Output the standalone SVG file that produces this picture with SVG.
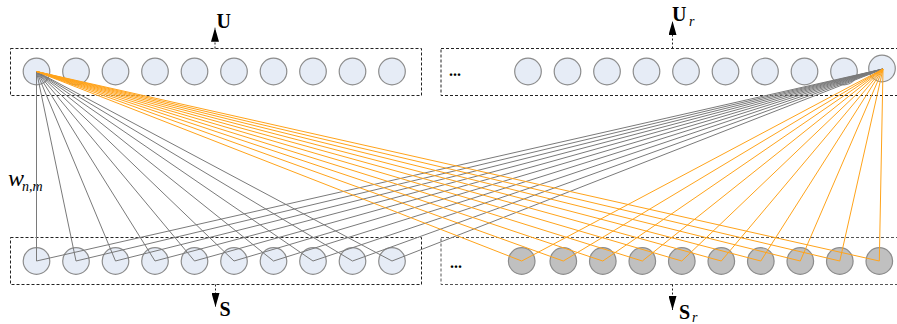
<svg xmlns="http://www.w3.org/2000/svg" width="897" height="324" viewBox="0 0 897 324">
  <style>
    .box { fill: none; stroke: #222; stroke-width: 1; stroke-dasharray: 3 2; }
    .box-light { fill: none; stroke: #555; stroke-width: 1; stroke-dasharray: 3 2; }
    .n { fill: #e6ecf6; stroke: #8c8c8c; stroke-width: 1.2; }
    .o { fill: #c0c0c0; stroke: #8c8c8c; stroke-width: 1.2; }
    .g { stroke: #7a7a7a; stroke-width: 1; fill: none; }
    .y { stroke: #ffa31a; stroke-width: 1; fill: none; }
    .io { stroke: #222; stroke-width: 1; stroke-dasharray: 2 2; marker-end: url(#head); }
    .lbl { font-family: "Liberation Serif", "Times New Roman", serif; font-weight: bold; font-size: 20px; fill: #000; }
    .sub { font-family: "Liberation Serif", "Times New Roman", serif; font-style: italic; font-size: 14px; fill: #000; }
    .w { font-family: "Liberation Serif", "Times New Roman", serif; font-style: italic; font-size: 24px; fill: #000; }
    .dots { font-family: "Liberation Serif", "Times New Roman", serif; font-weight: bold; font-size: 16px; fill: #000; }
  </style>
  <defs>
    <marker id="head" viewBox="0 0 14 8" refX="14" refY="4" markerWidth="14" markerHeight="8" markerUnits="userSpaceOnUse" orient="auto">
      <path d="M0,0 L14,4 L0,8 z" fill="#000"/>
    </marker>
  </defs>

  <!-- layer frames -->
  <g id="frames">
    <rect class="box" x="10.5" y="48.5" width="411" height="47"/>
    <rect class="box" x="441" y="48.5" width="470" height="47"/>
    <rect class="box" x="10.5" y="237.5" width="411" height="47"/>
    <rect class="box-light" x="441" y="237.5" width="470" height="47"/>
    <text class="dots" x="449" y="76">...</text>
    <text class="dots" x="450" y="268">...</text>
  </g>

  <!-- input / output arrows and labels -->
  <g id="io">
    <line class="io" x1="215" y1="48.5" x2="215" y2="27.7"/>
    <text class="lbl" x="216.5" y="27.5">U</text>
    <line class="io" x1="672.5" y1="48.5" x2="672.5" y2="21"/>
    <text class="lbl" x="672" y="20.5">U</text>
    <text class="sub" x="689" y="26">r</text>
    <line class="io" x1="215.5" y1="284.5" x2="215.5" y2="307"/>
    <text class="lbl" x="219.5" y="316">S</text>
    <line class="io" x1="672.5" y1="284.5" x2="672.5" y2="310"/>
    <text class="lbl" x="679" y="319">S</text>
    <text class="sub" x="692" y="322">r</text>
  </g>

  <text class="w" x="8" y="186">w</text>
  <text class="sub" x="22" y="190.5">n,m</text>

  <!-- upper layer, left block -->
  <g id="u1"><circle class="n" cx="36.5" cy="71.5" r="13.3"/></g>
  <g id="u2"><circle class="n" cx="76" cy="71.5" r="13.3"/></g>
  <g id="u3"><circle class="n" cx="115.5" cy="71.5" r="13.3"/></g>
  <g id="u4"><circle class="n" cx="155" cy="71.5" r="13.3"/></g>
  <g id="u5"><circle class="n" cx="194.5" cy="71.5" r="13.3"/></g>
  <g id="u6"><circle class="n" cx="234" cy="71.5" r="13.3"/></g>
  <g id="u7"><circle class="n" cx="273.5" cy="71.5" r="13.3"/></g>
  <g id="u8"><circle class="n" cx="313" cy="71.5" r="13.3"/></g>
  <g id="u9"><circle class="n" cx="352.5" cy="71.5" r="13.3"/></g>
  <g id="u10"><circle class="n" cx="392" cy="71.5" r="13.3"/></g>

  <!-- upper layer, right block -->
  <g id="ur1"><circle class="n" cx="528" cy="71.5" r="13.3"/></g>
  <g id="ur2"><circle class="n" cx="567.5" cy="71.5" r="13.3"/></g>
  <g id="ur3"><circle class="n" cx="607" cy="71.5" r="13.3"/></g>
  <g id="ur4"><circle class="n" cx="646.5" cy="71.5" r="13.3"/></g>
  <g id="ur5"><circle class="n" cx="686" cy="71.5" r="13.3"/></g>
  <g id="ur6"><circle class="n" cx="725.5" cy="71.5" r="13.3"/></g>
  <g id="ur7"><circle class="n" cx="765" cy="71.5" r="13.3"/></g>
  <g id="ur8"><circle class="n" cx="804.5" cy="71.5" r="13.3"/></g>
  <g id="ur9"><circle class="n" cx="844" cy="71.5" r="13.3"/></g>
  <g id="ur10"><circle class="n" cx="882" cy="68.5" r="13.3"/></g>

  <!-- lower layer, left block -->
  <g id="s1"><circle class="n" cx="36.5" cy="261" r="13.3"/></g>
  <g id="s2"><circle class="n" cx="76" cy="261" r="13.3"/></g>
  <g id="s3"><circle class="n" cx="115.5" cy="261" r="13.3"/></g>
  <g id="s4"><circle class="n" cx="155" cy="261" r="13.3"/></g>
  <g id="s5"><circle class="n" cx="194.5" cy="261" r="13.3"/></g>
  <g id="s6"><circle class="n" cx="234" cy="261" r="13.3"/></g>
  <g id="s7"><circle class="n" cx="273.5" cy="261" r="13.3"/></g>
  <g id="s8"><circle class="n" cx="313" cy="261" r="13.3"/></g>
  <g id="s9"><circle class="n" cx="352.5" cy="261" r="13.3"/></g>
  <g id="s10"><circle class="n" cx="392" cy="261" r="13.3"/></g>

  <!-- lower layer, right block -->
  <g id="sr1"><circle class="o" cx="521.7" cy="261" r="13.3"/></g>
  <g id="sr2"><circle class="o" cx="563.3" cy="261" r="13.3"/></g>
  <g id="sr3"><circle class="o" cx="602.8" cy="261" r="13.3"/></g>
  <g id="sr4"><circle class="o" cx="642.3" cy="261" r="13.3"/></g>
  <g id="sr5"><circle class="o" cx="681.8" cy="261" r="13.3"/></g>
  <g id="sr6"><circle class="o" cx="721.3" cy="261" r="13.3"/></g>
  <g id="sr7"><circle class="o" cx="760.8" cy="261" r="13.3"/></g>
  <g id="sr8"><circle class="o" cx="800.3" cy="261" r="13.3"/></g>
  <g id="sr9"><circle class="o" cx="839.8" cy="261" r="13.3"/></g>
  <g id="sr10"><circle class="o" cx="879.3" cy="261" r="13.3"/></g>

  <!-- weights w(n,m) -->
  <g id="connectors">
    <!-- from u1 to lower left block -->
    <line class="g" x1="36.5" y1="71.5" x2="36.5" y2="261"/>
    <line class="g" x1="36.5" y1="71.5" x2="76" y2="261"/>
    <line class="g" x1="36.5" y1="71.5" x2="115.5" y2="261"/>
    <line class="g" x1="36.5" y1="71.5" x2="155" y2="261"/>
    <line class="g" x1="36.5" y1="71.5" x2="194.5" y2="261"/>
    <line class="g" x1="36.5" y1="71.5" x2="234" y2="261"/>
    <line class="g" x1="36.5" y1="71.5" x2="273.5" y2="261"/>
    <line class="g" x1="36.5" y1="71.5" x2="313" y2="261"/>
    <line class="g" x1="36.5" y1="71.5" x2="352.5" y2="261"/>
    <line class="g" x1="36.5" y1="71.5" x2="392" y2="261"/>
    <!-- from ur10 to lower left block -->
    <line class="g" x1="883" y1="69" x2="36.5" y2="261"/>
    <line class="g" x1="883" y1="69" x2="76" y2="261"/>
    <line class="g" x1="883" y1="69" x2="115.5" y2="261"/>
    <line class="g" x1="883" y1="69" x2="155" y2="261"/>
    <line class="g" x1="883" y1="69" x2="194.5" y2="261"/>
    <line class="g" x1="883" y1="69" x2="234" y2="261"/>
    <line class="g" x1="883" y1="69" x2="273.5" y2="261"/>
    <line class="g" x1="883" y1="69" x2="313" y2="261"/>
    <line class="g" x1="883" y1="69" x2="352.5" y2="261"/>
    <line class="g" x1="883" y1="69" x2="392" y2="261"/>
    <!-- from u1 to lower right block -->
    <line class="y" x1="36.5" y1="71.5" x2="521.7" y2="261"/>
    <line class="y" x1="36.5" y1="71.5" x2="563.3" y2="261"/>
    <line class="y" x1="36.5" y1="71.5" x2="602.8" y2="261"/>
    <line class="y" x1="36.5" y1="71.5" x2="642.3" y2="261"/>
    <line class="y" x1="36.5" y1="71.5" x2="681.8" y2="261"/>
    <line class="y" x1="36.5" y1="71.5" x2="721.3" y2="261"/>
    <line class="y" x1="36.5" y1="71.5" x2="760.8" y2="261"/>
    <line class="y" x1="36.5" y1="71.5" x2="800.3" y2="261"/>
    <line class="y" x1="36.5" y1="71.5" x2="839.8" y2="261"/>
    <line class="y" x1="36.5" y1="71.5" x2="879.3" y2="261"/>
    <!-- from ur10 to lower right block -->
    <line class="y" x1="883" y1="69" x2="521.7" y2="261"/>
    <line class="y" x1="883" y1="69" x2="563.3" y2="261"/>
    <line class="y" x1="883" y1="69" x2="602.8" y2="261"/>
    <line class="y" x1="883" y1="69" x2="642.3" y2="261"/>
    <line class="y" x1="883" y1="69" x2="681.8" y2="261"/>
    <line class="y" x1="883" y1="69" x2="721.3" y2="261"/>
    <line class="y" x1="883" y1="69" x2="760.8" y2="261"/>
    <line class="y" x1="883" y1="69" x2="800.3" y2="261"/>
    <line class="y" x1="883" y1="69" x2="839.8" y2="261"/>
    <line class="y" x1="883" y1="69" x2="879.3" y2="261"/>
  </g>
</svg>
